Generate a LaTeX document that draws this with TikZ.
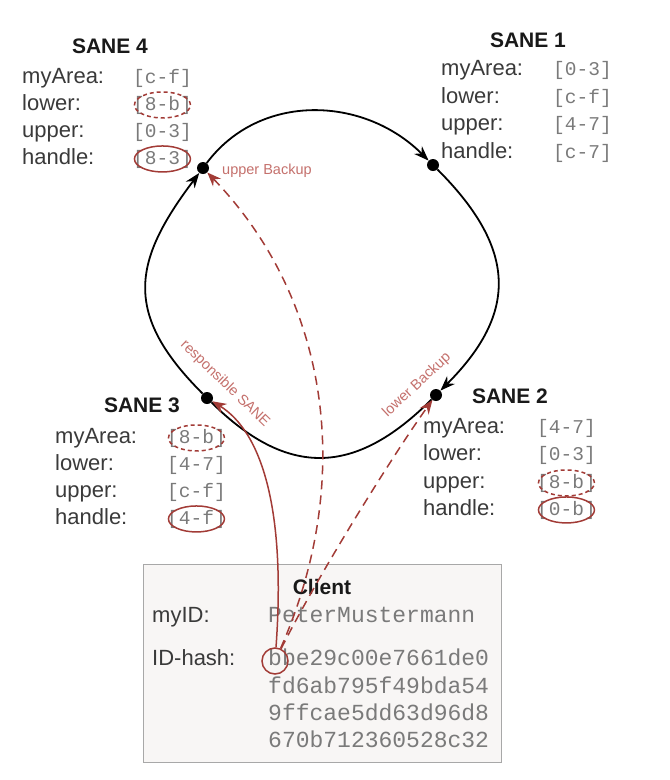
\documentclass[tikz,border=0pt]{standalone}
\usepackage{fontspec}
\setmainfont{Liberation Sans}
\newfontfamily\monofont{Liberation Mono}
\usepackage{tikz}
\usetikzlibrary{arrows.meta,positioning,shapes.geometric}
\definecolor{hashred}{HTML}{A23B36}
\definecolor{tagred}{HTML}{C4706C}
\definecolor{valgrey}{HTML}{7A7A7A}
\definecolor{txtgrey}{HTML}{3A3A3A}
\definecolor{boxfill}{HTML}{F8F6F5}
\definecolor{boxline}{HTML}{A8A8A8}
\tikzstyle{ringdot}=[fill=black,circle,minimum size=12pt,inner sep=0pt]
\tikzstyle{heading}=[font=\fontsize{21}{24}\selectfont\bfseries,text=black!90,inner sep=0pt,anchor=base]
\tikzstyle{field}=[font=\fontsize{22}{26}\selectfont,text=txtgrey,inner sep=0pt,anchor=base west]
\tikzstyle{entry}=[font=\monofont\fontsize{19.5}{24}\selectfont,text=valgrey,inner sep=0pt,anchor=base west]
\tikzstyle{hashline}=[font=\monofont\fontsize{23}{27}\selectfont,text=valgrey,inner sep=0pt,anchor=base west]
\tikzstyle{picked}=[draw=hashred,line width=1.5pt,ellipse,minimum width=56pt,minimum height=26pt,inner sep=0pt]
\tikzstyle{spare}=[picked,dash pattern=on 4pt off 3pt]
\tikzstyle{tag}=[font=\fontsize{14.5}{17}\selectfont,text=tagred,inner sep=0pt]
\tikzstyle{ring}=[line width=1.8pt,-{Stealth[length=15pt,width=11pt]}]
\tikzstyle{route}=[draw=hashred,line width=1.5pt,-{Stealth[length=14pt,width=11pt]}]
\tikzstyle{backup}=[route,dash pattern=on 9pt off 6pt]

\begin{document}
\begin{tikzpicture}[x=1pt,y=-1pt]
\useasboundingbox (0,0) rectangle (670,780);
% the four SANEs on the ring
\node [ringdot] (s4) at (203,168) {};
\node [ringdot] (s1) at (433,165) {};
\node [ringdot] (s2) at (436,395) {};
\node [ringdot] (s3) at (207,398) {};
\draw [ring] (s4) .. controls (260,92) and (364,96) .. (s1);
\draw [ring] (s1) .. controls (516,248) and (519,312) .. (s2);
\draw (s2) [line width=1.8pt] .. controls (355,476) and (288,478) .. (s3);
\draw [ring] (s3) .. controls (123,314) and (132,262) .. (s4);

% SANE 4
\node [heading] (t4) at (110,53) {SANE 4};
\node [field] (s4a) at (22,83) {myArea:};
\node [entry] (s4av) at (133,83) {[c-f]};
\node [field] (s4l) at (22,110) {lower:};
\node [entry] (s4lv) at (133,110) {[8-b]};
\node [field] (s4u) at (22,137) {upper:};
\node [entry] (s4uv) at (133,137) {[0-3]};
\node [field] (s4h) at (22,164) {handle:};
\node [entry] (s4hv) at (133,164) {[8-3]};
\node [spare] (s4lo) at (s4lv) {};
\node [picked] (s4ho) at (s4hv) {};

% SANE 1
\node [heading] (t1) at (528,47) {SANE 1};
\node [field] (s1a) at (441,75) {myArea:};
\node [entry] (s1av) at (553,75) {[0-3]};
\node [field] (s1l) at (441,103) {lower:};
\node [entry] (s1lv) at (553,103) {[c-f]};
\node [field] (s1u) at (441,130) {upper:};
\node [entry] (s1uv) at (553,130) {[4-7]};
\node [field] (s1h) at (441,158) {handle:};
\node [entry] (s1hv) at (553,158) {[c-7]};

% SANE 3
\node [heading] (t3) at (142,412) {SANE 3};
\node [field] (s3a) at (55,443) {myArea:};
\node [entry] (s3av) at (167,443) {[8-b]};
\node [field] (s3l) at (55,470) {lower:};
\node [entry] (s3lv) at (167,470) {[4-7]};
\node [field] (s3u) at (55,497) {upper:};
\node [entry] (s3uv) at (167,497) {[c-f]};
\node [field] (s3h) at (55,524) {handle:};
\node [entry] (s3hv) at (167,524) {[4-f]};
\node [spare] (s3ao) at (s3av) {};
\node [picked] (s3ho) at (s3hv) {};

% SANE 2
\node [heading] (t2) at (510,403) {SANE 2};
\node [field] (s2a) at (423,433) {myArea:};
\node [entry] (s2av) at (537,433) {[4-7]};
\node [field] (s2l) at (423,460) {lower:};
\node [entry] (s2lv) at (537,460) {[0-3]};
\node [field] (s2u) at (423,488) {upper:};
\node [entry] (s2uv) at (537,488) {[8-b]};
\node [field] (s2h) at (423,515) {handle:};
\node [entry] (s2hv) at (537,515) {[0-b]};
\node [spare] (s2uo) at (s2uv) {};
\node [picked] (s2ho) at (s2hv) {};

% client
\node [draw=boxline,fill=boxfill,line width=1pt,minimum width=358pt,minimum height=198pt,inner sep=0pt] (cl) at (322,663) {};
\node [heading] (ct) at (322,594) {Client};
\node [field] (cid) at (152,622) {myID:};
\node [hashline] (cidv) at (268,622) {PeterMustermann};
\node [field] (ch) at (152,665) {ID-hash:};
\node [hashline] (h1) at (268,665) {bbe29c00e7661de0};
\node [hashline] (h2) at (268,693) {fd6ab795f49bda54};
\node [hashline] (h3) at (268,720) {9ffcae5dd63d96d8};
\node [hashline] (h4) at (268,747) {670b712360528c32};
\node [picked,minimum width=26pt,minimum height=26pt] (hb) at (275,661) {};

% lookups from the client
\draw [route] (hb) .. controls (286,510) and (262,432) .. (s3);
\draw [backup] (hb) .. controls (355,480) and (330,300) .. (s4);
\draw [backup] (hb) .. controls (318,575) and (395,452) .. (s2);
\node [tag,anchor=west] (ub) at (222,171) {upper Backup};
\node [tag,rotate=-44] (rs) at (225,384) {responsible SANE};
\node [tag,rotate=43] (lb) at (417,385) {lower Backup};
\end{tikzpicture}
\end{document}
